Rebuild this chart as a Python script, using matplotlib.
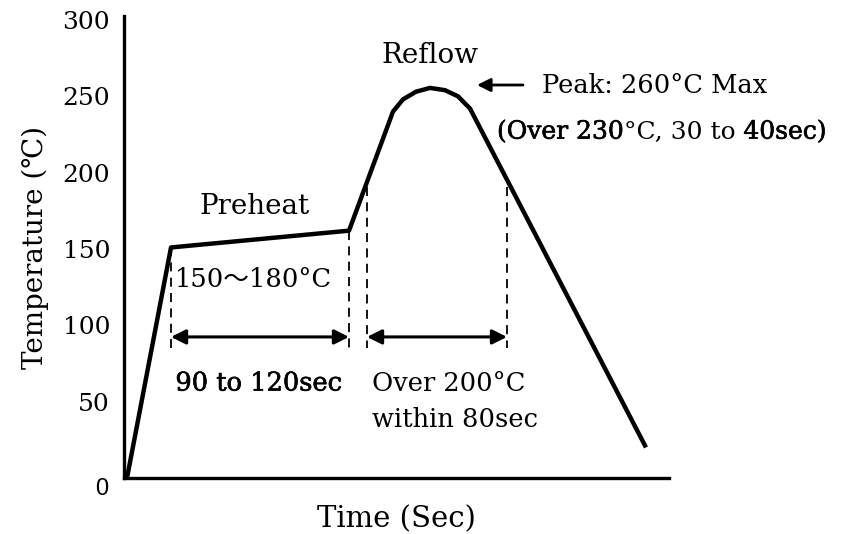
import matplotlib
matplotlib.use("Agg")
import matplotlib.pyplot as plt
import matplotlib.patheffects as pe
from matplotlib.transforms import ScaledTranslation

# ---- data ----
time_pts = [3, 47, 225, 269, 279, 292, 306, 321, 334, 346, 522]
temp_pts = [0, 151, 162, 240, 248, 253, 255.5, 254, 250, 242, 20]
ytick_vals = [0, 50, 100, 150, 200, 250, 300]
ytick_labels = ["0", "50", "100", "150", "200", "250", "300"]
# dashed marker lines: (time, temperature on curve)
dash_times = [47, 225, 243, 383]
dash_temps = [151, 162, 190.6, 190.6]
# span arrows (start, end)
preheat_span = (47, 225)
reflow_span = (243, 383)

SERIF = ["DejaVu Serif", "Noto Sans CJK JP"]
plt.rcParams["font.family"] = SERIF

fig = plt.figure(figsize=(8.43, 5.34), dpi=100)
ax = fig.add_axes([124 / 843, (534 - 478) / 534, (669 - 124) / 843, (478 - 16) / 534])
ax.set_xlim(0, 545)
ax.set_ylim(0, 302.6)

for s in ["top", "right"]:
    ax.spines[s].set_visible(False)
for s in ["left", "bottom"]:
    ax.spines[s].set_linewidth(2.4)
    ax.spines[s].set_capstyle("projecting")

ax.set_xticks([])
ax.set_yticks(ytick_vals[1:])
ax.set_yticklabels(ytick_labels[1:], fontsize=18, family=SERIF)
ax.tick_params(axis="y", length=0, pad=10)
ax.text(-16, ytick_vals[0], ytick_labels[0], ha="right", va="center",
        fontsize=17, family="Liberation Sans",
        transform=ax.transData + ScaledTranslation(0, -11 / 100, fig.dpi_scale_trans))

ax.set_ylabel("Temperature (℃)", fontsize=20, labelpad=10)
ax.set_xlabel("Time (Sec)", fontsize=21, labelpad=20)

# profile curve
ax.plot(time_pts, temp_pts, color="black", lw=3.2, solid_joinstyle="round",
        solid_capstyle="butt", clip_on=False)

# dashed verticals
for t, yv in zip(dash_times, dash_temps):
    ax.plot([t, t], [yv, 85], color="black", lw=1.3, ls=(0, (5, 3.5)))

# double arrows
arrow_y = 92.4
for a, b in [preheat_span, reflow_span]:
    ax.annotate("", xy=(a, arrow_y), xytext=(b, arrow_y),
                arrowprops=dict(arrowstyle="<|-|>", color="black", lw=2.2,
                                mutation_scale=22, shrinkA=0, shrinkB=0))

# peak arrow
ax.annotate("", xy=(353, 257.4), xytext=(399, 257.4),
            arrowprops=dict(arrowstyle="-|>", color="black", lw=2.0,
                            mutation_scale=20, shrinkA=0, shrinkB=0))

fs = 18.5
heavy = [pe.withStroke(linewidth=0.45, foreground="black")]

ax.text(131, 177.5, "Preheat", fontsize=20, ha="center", va="center")
ax.text(306, 277, "Reflow", fontsize=20, ha="center", va="center")
ax.text(418, 257.4, "Peak: 260°C Max", fontsize=fs, ha="left", va="center")

# mixed-weight line, baselines aligned via shared bbox bottoms
fs2 = 18
t1 = ax.text(373, 219, "(Over 230", fontsize=fs2, ha="left", va="bottom",
             path_effects=heavy)
t2 = ax.annotate("°C, 30 to ", xy=(1, 0), xycoords=t1, fontsize=fs2,
                 ha="left", va="bottom")
t3 = ax.annotate("40sec)", xy=(1, 0), xycoords=t2, fontsize=fs2,
                 ha="left", va="bottom", path_effects=heavy)

ax.text(51, 129.7, "150～180°C", fontsize=fs, ha="left", va="center")
ax.text(135, 62.2, "90 to 120sec", fontsize=fs, ha="center", va="center",
        path_effects=heavy)
ax.text(248, 62.2, "Over 200°C", fontsize=fs, ha="left", va="center")
ax.text(248, 38, "within 80sec", fontsize=fs, ha="left", va="center")

fig.savefig("out.png", dpi=100)
